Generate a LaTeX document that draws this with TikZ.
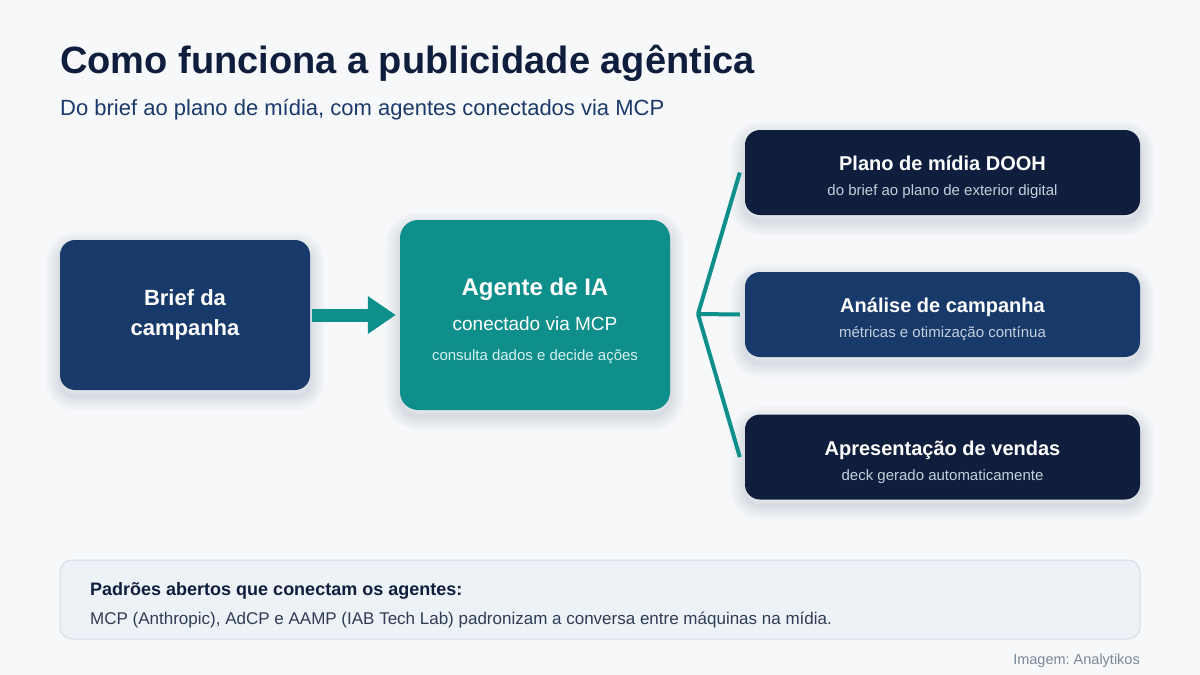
\documentclass[tikz,border=0pt]{standalone}
\usepackage{fontspec}
\setmainfont{Liberation Sans}
\frenchspacing
\usetikzlibrary{arrows.meta}
\definecolor{bgc}{HTML}{F6F8FA}
\definecolor{navydark}{HTML}{0F1E3D}
\definecolor{navymid}{HTML}{173A6B}
\definecolor{tealc}{HTML}{0E8F8B}
\definecolor{subc}{HTML}{1B3A6B}
\definecolor{boxsub}{HTML}{C5CEDB}
\definecolor{tealsub}{HTML}{D4F1EF}
\definecolor{notefill}{HTML}{EDF2F7}
\definecolor{noteborder}{HTML}{D5DEE8}
\definecolor{notetext}{HTML}{2E3D55}
\definecolor{creditc}{HTML}{7A879A}
\definecolor{shadowc}{HTML}{1C2A55}
\newcommand\myfs[1]{\fontsize{#1}{#1}\selectfont}
\tikzset{
  shl/.style={preaction={draw=shadowc, draw opacity=0.018, line width=#1, transform canvas={yshift=-6pt}}},
  softshadow/.style={shl=28pt, shl=23pt, shl=18pt, shl=13pt, shl=9pt, shl=5pt, shl=2pt},
  card/.style={rounded corners=15pt, inner sep=0pt, softshadow},
  txt/.style={inner sep=0pt, anchor=base},
  outbox/.style={card, minimum width=395pt, minimum height=85pt},
  outtitle/.style={txt, text=white, font=\bfseries\myfs{20}},
  outsub/.style={txt, text=boxsub, font=\myfs{15}},
  branch/.style={draw=tealc, line width=4pt},
  bigarrow/.style={draw=tealc, line width=13pt, -{Triangle[length=28pt,width=36pt]}},
}
\begin{document}
\begin{tikzpicture}[x=1pt,y=-1pt]
\fill[bgc] (0,0) rectangle (1200,675);
\useasboundingbox (0,0) rectangle (1200,675);

\node[txt, anchor=base west, text=navydark, font=\bfseries\myfs{38}] (title) at (60,73) {Como funciona a publicidade agêntica};
\node[txt, anchor=base west, text=subc, font=\myfs{22}] (subtitle) at (60,115) {Do brief ao plano de mídia, com agentes conectados via MCP};

% brief
\node[card, fill=navymid, minimum width=250pt, minimum height=150pt] (brief) at (185,315) {};
\node[txt, text=white, font=\bfseries\myfs{22}] (brief1) at (185,305) {Brief da};
\node[txt, text=white, font=\bfseries\myfs{22}] (brief2) at (185,335) {campanha};

% agent
\node[card, rounded corners=18pt, fill=tealc, minimum width=270pt, minimum height=190pt] (agent) at (535,315) {};
\node[txt, text=white, font=\bfseries\myfs{24}] (agent1) at (535,295) {Agente de IA};
\node[txt, text=white, font=\myfs{19}] (agent2) at (535,330) {conectado via MCP};
\node[txt, text=tealsub, font=\myfs{15}] (agent3) at (535,360) {consulta dados e decide ações};

\draw[bigarrow] ([xshift=2pt]brief.east) -- ([xshift=-4pt]agent.west);

% outputs
\node[outbox, fill=navydark] (out1) at (942.5,172.5) {};
\node[outtitle] (out1t) at (942.5,170) {Plano de mídia DOOH};
\node[outsub] (out1s) at (942.5,195) {do brief ao plano de exterior digital};

\node[outbox, fill=navymid] (out2) at (942.5,314.5) {};
\node[outtitle] (out2t) at (942.5,312) {Análise de campanha};
\node[outsub] (out2s) at (942.5,337) {métricas e otimização contínua};

\node[outbox, fill=navydark] (out3) at (942.5,457) {};
\node[outtitle] (out3t) at (942.5,455) {Apresentação de vendas};
\node[outsub] (out3s) at (942.5,480) {deck gerado automaticamente};

\coordinate (hub) at (698,314);
\draw[branch] (hub) -- ([xshift=-5pt]out1.west);
\draw[branch] (hub) -- ([xshift=-5pt]out2.west);
\draw[branch] (hub) -- ([xshift=-5pt]out3.west);

% note
\node[rounded corners=12pt, fill=notefill, draw=noteborder, line width=1pt, minimum width=1080pt, minimum height=79pt, inner sep=0pt] (note) at (600,599.5) {};
\node[txt, anchor=base west, text=navydark, font=\bfseries\myfs{18}] (note1) at (90,595) {Padrões abertos que conectam os agentes:};
\node[txt, anchor=base west, text=notetext, font=\myfs{17}] (note2) at (90,624) {MCP (Anthropic), AdCP e AAMP (IAB Tech Lab) padronizam a conversa entre máquinas na mídia.};

\node[txt, anchor=base east, text=creditc, font=\myfs{14.5}] (credit) at (1140,664) {Imagem: Analytikos};
\end{tikzpicture}
\end{document}
